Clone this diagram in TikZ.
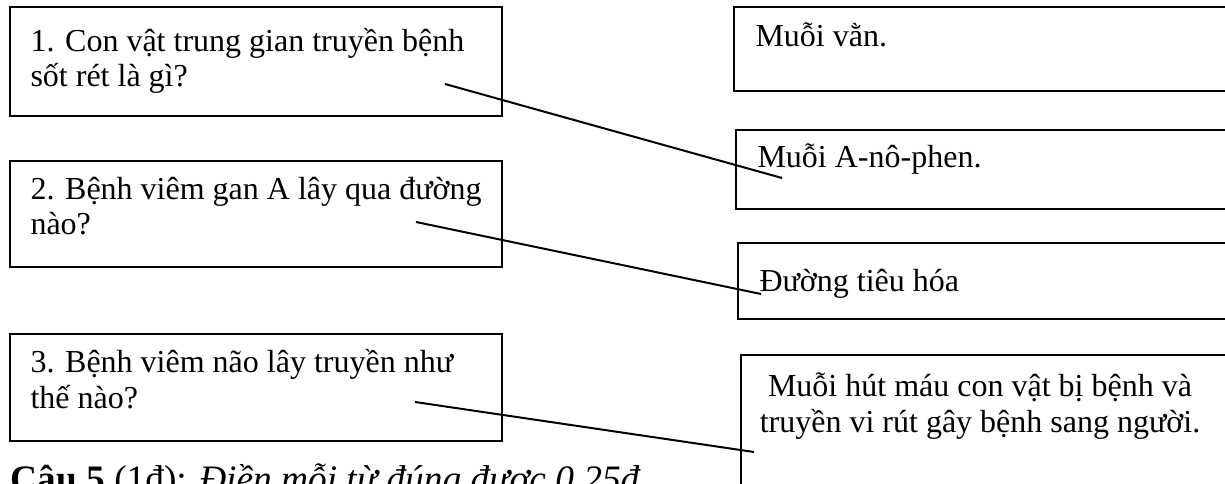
\documentclass[tikz,border=0pt]{standalone}
\usepackage{fontspec}
\setmainfont{Liberation Serif}
\usetikzlibrary{fit}
\begin{document}
\begin{tikzpicture}[x=0.375pt,y=-0.375pt,
  box/.style={draw, line width=0.75pt, inner sep=0pt},
  txt/.style={inner sep=0pt, anchor=base west, font=\fontsize{12pt}{13pt}\selectfont},
  ctxt/.style={inner sep=0pt, anchor=base, font=\fontsize{12pt}{13pt}\selectfont},
  head/.style={inner sep=0pt, anchor=base west, font=\fontsize{14pt}{16pt}\selectfont},
  link/.style={line width=0.75pt}]
\useasboundingbox (0,0) rectangle (1225,484);
\clip (0,0) rectangle (1225,484);
% left boxes
\node[box, fit={(10,7) (502,116)}] (q1) {};
\node[box, fit={(10,161) (502,267)}] (q2) {};
\node[box, fit={(10,334) (502,441)}] (q3) {};
\node[txt] (q1a) at (30,52) {1. Con vật trung gian truyền bệnh};
\node[txt] (q1b) at (30,87) {sốt rét là gì?};
\node[txt] (q2a) at (30,200) {2. Bệnh viêm gan A lây qua đường};
\node[txt] (q2b) at (30,235) {nào?};
\node[txt] (q3a) at (30,373) {3. Bệnh viêm não lây truyền như};
\node[txt] (q3b) at (30,409) {thế nào?};
% right boxes
\node[box, fit={(734,7) (1240,91)}] (a1) {};
\node[box, fit={(736,130) (1240,209)}] (a2) {};
\node[box, fit={(738,243) (1240,319)}] (a3) {};
\node[box, fit={(741,355) (1240,520)}] (a4) {};
\node[txt] (a1t) at (755,47) {Muỗi vằn.};
\node[txt] (a2t) at (757,168) {Muỗi A-nô-phen.};
\node[txt] (a3t) at (759,292) {Đường tiêu hóa};
\node[ctxt] (a4a) at (980,397) {Muỗi hút máu con vật bị bệnh và};
\node[ctxt] (a4b) at (980,433) {truyền vi rút gây bệnh sang người.};
% connectors
\coordinate (s1) at (445,84);
\coordinate (e1) at (782,178);
\coordinate (s2) at (416,222);
\coordinate (e2) at (761,294);
\coordinate (s3) at (415,402);
\coordinate (e3) at (754,452);
\draw[link] (s1) -- (e1);
\draw[link] (s2) -- (e2);
\draw[link] (s3) -- (e3);
% heading (cut off at bottom)
\node[head] (c5) at (10,492) {\textbf{Câu 5} (1đ): \textit{Điền mỗi từ đúng được 0,25đ}};
\end{tikzpicture}
\end{document}
